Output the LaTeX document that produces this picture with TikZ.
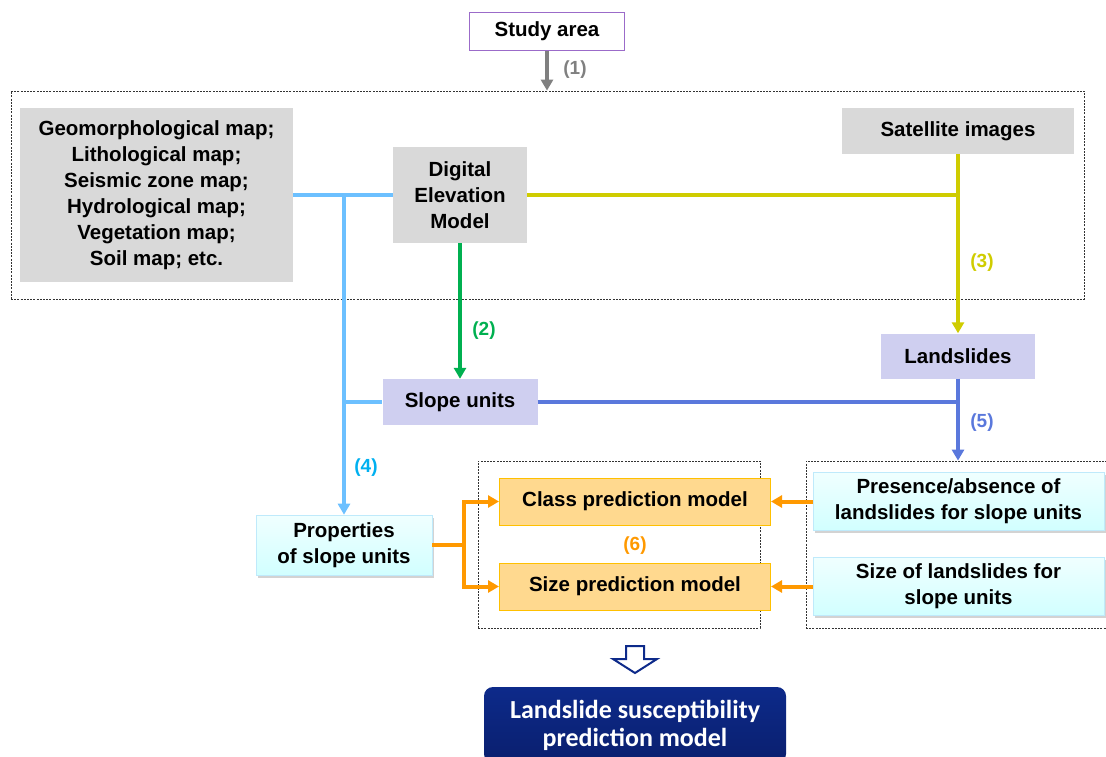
\documentclass[tikz,border=0pt]{standalone}
\usepackage{fontspec}
\setmainfont{Liberation Sans}
\newfontfamily\calib{Carlito}
\usetikzlibrary{arrows.meta,shadows}
\definecolor{boxgray}{HTML}{D9D9D9}
\definecolor{purp}{HTML}{9B6BC9}
\definecolor{lblue}{HTML}{6CC0FF}
\definecolor{yel}{HTML}{CFCC00}
\definecolor{grn}{HTML}{00B050}
\definecolor{lav}{HTML}{CFCFF0}
\definecolor{royal}{HTML}{5A78DC}
\definecolor{cyanlab}{HTML}{00B0F0}
\definecolor{orng}{HTML}{FF9900}
\definecolor{orfill}{HTML}{FFD98F}
\definecolor{orbord}{HTML}{FFC000}
\definecolor{navy}{HTML}{0D2A8A}
\definecolor{navyd}{HTML}{0A1F6E}
\definecolor{arrgray}{HTML}{808080}
\tikzset{
  base/.style={inner sep=0pt, align=center, font=\fontsize{20.5}{26}\selectfont\bfseries},
  graybox/.style={base, fill=boxgray},
  lavbox/.style={base, fill=lav},
  cyanbox/.style={base, top color=cyan!6, bottom color=cyan!18, draw=cyan!25, line width=0.6pt,
     drop shadow={opacity=0.35, shadow xshift=1.5pt, shadow yshift=-2.5pt}},
  orbox/.style={base, fill=orfill, draw=orbord, line width=1pt},
  frame/.style={draw=black!80, dash pattern=on 2pt off 1.2pt, line width=0.8pt, inner sep=0pt},
  conn/.style={line width=4pt},
  tip/.style={-{Triangle[length=11pt,width=12pt]}},
  lab/.style={font=\fontsize{19}{22}\selectfont\bfseries},
}
\begin{document}
\begin{tikzpicture}[x=1pt,y=-1pt]
\useasboundingbox (0,0) rectangle (1106,756);
% frames
\node[frame, minimum width=1073, minimum height=208] (bigbox) at (547.5,195) {};
\node[frame, minimum width=282, minimum height=167] (mbox) at (619,544.5) {};
\node[frame, minimum width=304, minimum height=167] (rbox) at (958,544.5) {};
% nodes
\node[base, draw=purp, line width=1pt, minimum width=155, minimum height=38] (study) at (547,31) {Study area};
\node[graybox, minimum width=273, minimum height=174] (geo) at (156.5,195) {Geomorphological map;\\Lithological map;\\Seismic zone map;\\Hydrological map;\\Vegetation map;\\Soil map; etc.};
\node[graybox, minimum width=134, minimum height=96] (dem) at (460,195) {Digital\\Elevation\\Model};
\node[graybox, minimum width=232, minimum height=46] (sat) at (958,131) {Satellite images};
\node[lavbox, minimum width=154, minimum height=45] (land) at (958,356) {Landslides};
\node[lavbox, minimum width=155, minimum height=46] (slope) at (460,402) {Slope units};
\node[cyanbox, minimum width=176, minimum height=60] (props) at (344,545) {Properties\\of slope units};
\node[orbox, minimum width=271, minimum height=47] (cls) at (635,501.5) {Class prediction model};
\node[orbox, minimum width=271, minimum height=47] (szp) at (635,586.5) {Size prediction model};
\node[cyanbox, minimum width=291, minimum height=58] (pres) at (958.5,501.5) {Presence/absence of\\landslides for slope units};
\node[cyanbox, minimum width=291, minimum height=58] (szl) at (958.5,586.5) {Size of landslides for\\slope units};
\node[inner sep=0pt, minimum width=302, minimum height=76, rounded corners=9pt, top color=navy, bottom color=navyd, text=white, align=center, font=\calib\fontsize{26}{28}\selectfont\bfseries] (final) at (635,725) {Landslide susceptibility\\prediction model};
% labels
\node[lab, text=arrgray] (l1) at (575,70) {(1)};
\node[lab, text=grn] (l2) at (484,331) {(2)};
\node[lab, text=yel] (l3) at (982,263) {(3)};
\node[lab, text=cyanlab] (l4) at (366,468) {(4)};
\node[lab, text=royal] (l5) at (982,423) {(5)};
\node[lab, text=orng] (l6) at (635,546) {(6)};
% connectors
\draw[conn, arrgray, tip] (study.south) -- (study.south |- bigbox.north);
\coordinate (j1) at (344,195);
\draw[conn, lblue] (geo.east) -- (dem.west);
\draw[conn, lblue, tip] (j1) -- (props.north);
\draw[conn, lblue] (j1 |- slope.west) -- (slope.west);
\draw[conn, yel] (dem.east) -- (dem.east -| sat.south);
\draw[conn, yel, tip] (sat.south) -- (land.north);
\draw[conn, grn, tip] (dem.south) -- (slope.north);
\draw[conn, royal] (slope.east) -- (slope.east -| land.south);
\draw[conn, royal, tip] (land.south) -- (land.south |- rbox.north);
\coordinate (j2) at (464,545);
\draw[conn, orng] (props.east) -- (j2);
\draw[conn, orng, tip] (j2) |- (cls.west);
\draw[conn, orng, tip] (j2) |- (szp.west);
\draw[conn, orng, tip] (pres.west) -- (cls.east);
\draw[conn, orng, tip] (szl.west) -- (szp.east);
% hollow arrow
\draw[navy, line width=2pt, line join=miter, fill=white] (626,646) -- (644,646) -- (644,659) -- (657,659) -- (635,673) -- (613,659) -- (626,659) -- cycle;
\end{tikzpicture}
\end{document}
